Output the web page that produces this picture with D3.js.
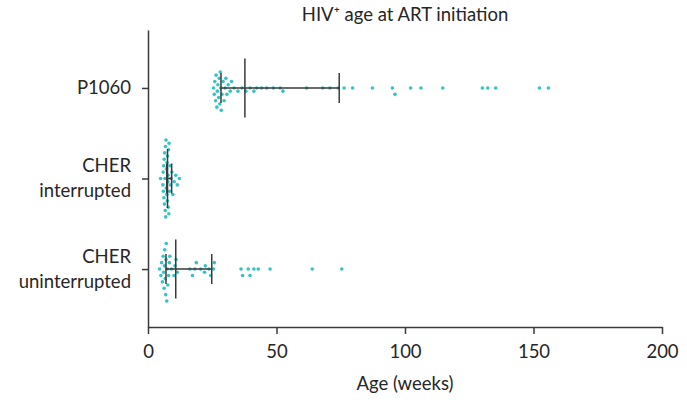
<!DOCTYPE html>
<html>
<head>
<meta charset="utf-8">
<script src="https://cdn.jsdelivr.net/npm/d3@7"></script>
<style>
  html, body { margin: 0; padding: 0; background: #fff; }
  svg { display: block; font-family: Lato, "Noto Sans", sans-serif; }
</style>
</head>
<body>
<svg id="chart" width="687" height="400"></svg>
<script>
// ---- data (weeks) ----
const categories = ["P1060", "CHER interrupted", "CHER uninterrupted"];
const categoryLines = [["P1060"], ["CHER", "interrupted"], ["CHER", "uninterrupted"]];

const p1060 = [25.5, 25.8, 26.0, 26.3, 26.5, 26.8, 27.0, 27.2, 27.5, 27.7, 27.9, 28.1, 28.3,
  28.5, 28.8, 29.2, 29.6, 30.0, 30.3, 30.7, 31.2, 32.0, 32.5, 33.5, 35.0, 36.6,
  38.1, 39.7, 41.2, 42.3, 44.2, 46.2, 48.8, 51.4, 52.5, 61.7, 68.0, 70.8, 74.0,
  76.3, 79.6, 87.3, 95.1, 96.1, 102.2, 106.2, 114.7, 130.1, 132.2, 135.3, 152.3, 155.8];

const cherInterrupted = [4.9, 5.8, 5.9, 6.0, 6.1, 6.2, 6.3, 6.4, 6.5, 6.6, 6.7, 6.8, 6.9, 7.0,
  7.1, 7.2, 7.3, 7.4, 7.5, 7.6, 7.7, 7.8, 7.9, 8.0, 8.1, 8.2, 8.4, 8.6, 8.8, 9.0,
  9.3, 9.7, 10.2, 10.8, 11.4, 12.2];

const cherUninterrupted = [4.5, 5.0, 5.3, 5.6, 5.9, 6.1, 6.3, 6.4, 6.5, 6.7, 6.9,
  7.0, 7.1, 7.3, 7.5, 7.7, 8.0, 8.3, 8.5, 9.2, 10.1, 10.5,
  10.9, 11.4, 16.3, 17.3, 18.2, 18.8, 20.5, 22.0, 22.3, 23.7, 24.4,
  25.5, 25.8, 36.2, 36.8, 39.0, 39.7, 41.2, 42.9, 47.5, 63.9, 75.4];

const seriesValues = [p1060, cherInterrupted, cherUninterrupted];
const medians = [37.7, 7.6, 10.8];
const q1s = [28.4, 7.3, 7.0];
const q3s = [74.4, 9.2, 24.8];

const xTicks = [0, 50, 100, 150, 200];
const titleText = "HIV\u207A age at ART initiation";
const xTitle = "Age (weeks)";

// ---- layout ----
const svg = d3.select("#chart");
const mLeft = 148, mRight = 662, mTop = 30, mBottom = 327;
const dotColor = "#35c4c4";
const lineColor = "#3a3a3a";
const textColor = "#262626";
const fontSize = 18.5;

const x = d3.scaleLinear().domain([0, 200]).range([mLeft, mRight]);
const y = d3.scalePoint().domain(categories).range([mTop, mBottom]).padding(0.64);

// points (beeswarm dodge)
const r = 1.8, coll = 4.2, step = 3.2;
categories.forEach((cat, i) => {
  const vals = seriesValues[i].slice().sort((a, b) => a - b);
  const placed = [];
  vals.forEach(v => {
    const px = x(v);
    let k = 0, off = 0;
    while (true) {
      const cand = k === 0 ? [0] : [k * step, -k * step];
      let found = null;
      for (const c of cand) {
        if (placed.every(p => (p.x - px) ** 2 + (p.y - c) ** 2 >= coll * coll)) { found = c; break; }
      }
      if (found !== null) { off = found; break; }
      k++;
    }
    placed.push({ x: px, y: off });
  });
  svg.append("g").selectAll("circle").data(placed).join("circle")
    .attr("cx", d => d.x)
    .attr("cy", d => y(cat) + d.y)
    .attr("r", r)
    .attr("fill", dotColor);
});

// summary lines
const sg = svg.append("g").attr("stroke", lineColor).attr("stroke-width", 1.5);
categories.forEach((cat, i) => {
  const cy = y(cat);
  sg.append("line").attr("x1", x(q1s[i])).attr("x2", x(q3s[i])).attr("y1", cy).attr("y2", cy);
  sg.append("line").attr("x1", x(medians[i])).attr("x2", x(medians[i])).attr("y1", cy - 29.5).attr("y2", cy + 29.5);
  sg.append("line").attr("x1", x(q1s[i])).attr("x2", x(q1s[i])).attr("y1", cy - 15).attr("y2", cy + 15);
  sg.append("line").attr("x1", x(q3s[i])).attr("x2", x(q3s[i])).attr("y1", cy - 15).attr("y2", cy + 15);
});

// x axis
const xAxis = svg.append("g").attr("transform", `translate(0,${mBottom})`)
  .call(d3.axisBottom(x).tickValues(xTicks).tickSize(7).tickPadding(11).tickSizeOuter(0));
xAxis.select(".domain").attr("stroke", lineColor).attr("stroke-width", 1.5);
xAxis.selectAll(".tick line").attr("stroke", lineColor).attr("stroke-width", 1.5);
xAxis.selectAll(".tick text").attr("font-size", fontSize).attr("fill", textColor)
  .attr("font-family", "Lato, sans-serif");

// y axis
const yAxis = svg.append("g").attr("transform", `translate(${mLeft},0)`)
  .call(d3.axisLeft(y).tickSize(6).tickSizeOuter(0).tickFormat(""));
yAxis.select(".domain").attr("stroke", lineColor).attr("stroke-width", 1.5);
yAxis.selectAll(".tick line").attr("stroke", lineColor).attr("stroke-width", 1.5);

categories.forEach((cat, i) => {
  const lines = categoryLines[i];
  const lh = 25;
  const t = svg.append("text")
    .attr("text-anchor", "end")
    .attr("font-size", fontSize)
    .attr("fill", textColor);
  lines.forEach((ln, j) => {
    t.append("tspan")
      .attr("x", mLeft - 17)
      .attr("y", y(cat) + (j - (lines.length - 1) / 2) * lh)
      .attr("dy", "0.35em")
      .text(ln);
  });
});

// titles
svg.append("text").attr("x", 405).attr("y", 21).attr("text-anchor", "middle")
  .attr("font-size", fontSize).attr("fill", textColor).text(titleText);
svg.append("text").attr("x", 405).attr("y", 390).attr("text-anchor", "middle")
  .attr("font-size", fontSize).attr("fill", textColor).text(xTitle);
</script>
</body>
</html>
